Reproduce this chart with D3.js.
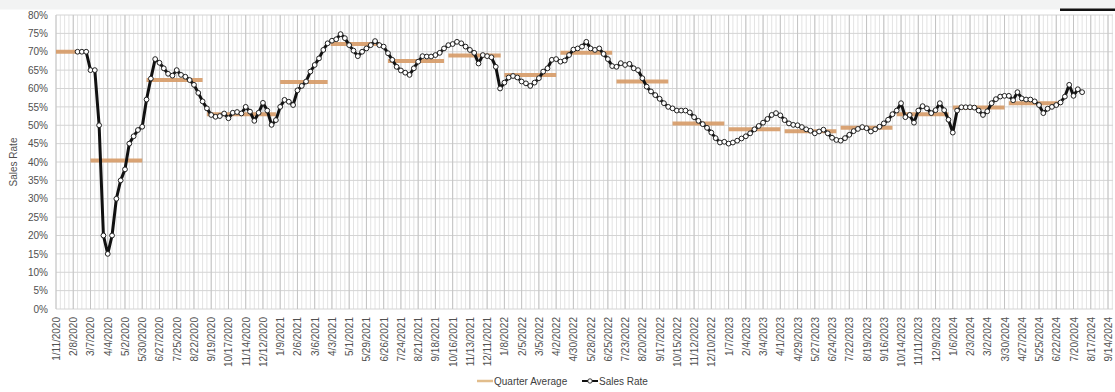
<!DOCTYPE html>
<html>
<head>
<meta charset="utf-8">
<script src="https://cdn.jsdelivr.net/npm/d3@7"></script>
<style>
  body { margin: 0; background: #fff; }
  svg { display: block; font-family: "Liberation Sans", Arial, sans-serif; }
</style>
</head>
<body>
<svg id="chart" width="1115" height="392"></svg>
<script>
// Weekly sales rate (%), one value per Saturday starting 2/15/2020
const firstWeek = "2/15/2020";
const salesRate = [
  70, 70, 70, 65, 65, 50, 20, 15, 20, 30,
  35, 38, 45, 47, 48.7, 49.6, 57, 62.7, 68, 67,
  65.5, 64, 63.5, 65, 63.7, 63.2, 62.3, 61, 58.8, 56.5,
  54.6, 52.8, 52.3, 52.5, 53.2, 51.9, 53.4, 53.6, 53.2, 55,
  53.7, 51.2, 53.4, 56.1, 54, 50.1, 51.4, 55, 56.9, 56.4,
  55.5, 59.5, 60.7, 61.9, 64.6, 66.4, 68.2, 70.5, 72.3, 73,
  73.4, 74.8, 73.7, 71.8, 70.3, 68.8, 70, 70.9, 71.8, 72.9,
  71.8, 71.4, 69.6, 67.8, 65.9, 64.9, 64.3, 63.7, 65.5, 67.3,
  68.8, 68.7, 68.7, 69.1, 69.7, 70.9, 71.8, 72.1, 72.7, 72.3,
  71.4, 70.5, 69.7, 66.8, 69.1, 68.8, 68.5, 65.9, 60, 61.6,
  63, 63.4, 63, 61.9, 61.4, 60.7, 61.6, 62.8, 64.6, 65.5,
  67.8, 68, 67.3, 67.6, 69.1, 70.6, 70.9, 71.4, 72.7, 70.9,
  70.5, 70.9, 69.4, 68, 66.1, 65.9, 66.9, 66.4, 66.7, 65.5,
  65, 62.8, 60.5, 59.2, 58.2, 57.2, 56, 55, 54.6, 54,
  54, 54, 53.5, 52.2, 51.2, 50.3, 49.3, 48, 46.5, 45.3,
  45.5, 45, 45.3, 45.8, 46.4, 47, 47.8, 48.9, 49.8, 50.7,
  51.7, 52.8, 53.3, 52.7, 51.4, 50.5, 50.1, 50, 49.5, 48.9,
  48.5, 47.8, 48.3, 48.8, 47.8, 46.6, 46, 45.8, 46.5, 47.4,
  48.4, 49, 49.5, 49.2, 48.3, 48.9, 49.6, 50.5, 51.5, 53,
  54, 56, 52.2, 52.8, 50.7, 54, 55.2, 54.6, 53.3, 54.1,
  56, 54.1, 51.5, 48, 54, 54.9, 54.9, 54.9, 54.8, 54,
  52.8, 53.8, 56, 57.1, 57.8, 58, 58, 56.8, 59, 57.3,
  57, 57, 56.5, 55.5, 53.3, 54.5, 55, 55.5, 56.2, 57.8,
  61, 58, 59.8, 59
];

// Quarter averages: period start, period end, average (%)
const quarterStart = ["1/11/2020", "3/7/2020", "6/6/2020", "9/12/2020", "1/9/2021", "4/1/2021",
  "7/3/2021", "10/9/2021", "1/8/2022", "4/9/2022", "7/9/2022", "10/8/2022",
  "1/7/2023", "4/8/2023", "7/8/2023", "10/7/2023", "1/6/2024", "4/6/2024"];
const quarterEnd = ["2/15/2020", "5/30/2020", "9/5/2020", "1/2/2021", "3/27/2021", "6/20/2021",
  "10/2/2021", "1/2/2022", "4/2/2022", "7/2/2022", "10/1/2022", "12/31/2022",
  "4/1/2023", "7/1/2023", "9/30/2023", "12/30/2023", "3/30/2024", "6/29/2024"];
const quarterAvg = [70, 40.4, 62.3, 53, 61.8, 72.1, 67.5, 69, 63.7, 69.7, 61.9, 50.5,
  48.9, 48.4, 49.3, 53, 54.8, 56];

// X-axis tick labels (every four weeks)
const tickLabels = ["1/11/2020", "2/8/2020", "3/7/2020", "4/4/2020", "5/2/2020", "5/30/2020",
  "6/27/2020", "7/25/2020", "8/22/2020", "9/19/2020", "10/17/2020", "11/14/2020", "12/12/2020",
  "1/9/2021", "2/6/2021", "3/6/2021", "4/3/2021", "5/1/2021", "5/29/2021", "6/26/2021",
  "7/24/2021", "8/21/2021", "9/18/2021", "10/16/2021", "11/13/2021", "12/11/2021",
  "1/8/2022", "2/5/2022", "3/5/2022", "4/2/2022", "4/30/2022", "5/28/2022", "6/25/2022",
  "7/23/2022", "8/20/2022", "9/17/2022", "10/15/2022", "11/12/2022", "12/10/2022",
  "1/7/2023", "2/4/2023", "3/4/2023", "4/1/2023", "4/29/2023", "5/27/2023", "6/24/2023",
  "7/22/2023", "8/19/2023", "9/16/2023", "10/14/2023", "11/11/2023", "12/9/2023",
  "1/6/2024", "2/3/2024", "3/2/2024", "3/30/2024", "4/27/2024", "5/25/2024", "6/22/2024",
  "7/20/2024", "8/17/2024", "9/14/2024"];

const yTicks = [0, 5, 10, 15, 20, 25, 30, 35, 40, 45, 50, 55, 60, 65, 70, 75, 80];

const parse = d3.utcParse("%m/%d/%Y");
const svg = d3.select("#chart");

const plot = { left: 56, right: 1113, top: 15, bottom: 309 };
const tickDates = tickLabels.map(parse);

const x = d3.scaleUtc()
  .domain([tickDates[0], tickDates[tickDates.length - 1]])
  .range([56, 1108]);
const y = d3.scaleLinear().domain([0, 80]).range([plot.bottom, plot.top]);

// top strip
svg.append("rect").attr("x", 0).attr("y", 0).attr("width", 1115).attr("height", 9.5).attr("fill", "#f2f3f3");
svg.append("rect").attr("x", 1060).attr("y", 8.5).attr("width", 55).attr("height", 2.5).attr("fill", "#111");

const grid = svg.append("g");

// weekly minor gridlines
const plotEndDate = x.invert(plot.right);
const weeks = d3.utcSaturday.range(tickDates[0], d3.utcDay.offset(plotEndDate, 1));
grid.selectAll("line.minor").data(weeks).join("line")
  .attr("x1", d => x(d)).attr("x2", d => x(d))
  .attr("y1", plot.top).attr("y2", plot.bottom)
  .attr("stroke", "#e3e3e3").attr("stroke-width", 1);

// horizontal gridlines
grid.selectAll("line.h").data(yTicks).join("line")
  .attr("x1", plot.left).attr("x2", plot.right)
  .attr("y1", d => y(d)).attr("y2", d => y(d))
  .attr("stroke", "#d4d4d4").attr("stroke-width", 1);

// major gridlines at tick dates
grid.selectAll("line.major").data(tickDates).join("line")
  .attr("x1", d => x(d)).attr("x2", d => x(d))
  .attr("y1", plot.top).attr("y2", plot.bottom)
  .attr("stroke", "#c4c4c4").attr("stroke-width", 1);

// y axis labels
const yAxis = d3.axisLeft(y).tickValues(yTicks).tickSize(0).tickPadding(8).tickFormat(d => d + "%");
svg.append("g").attr("transform", `translate(${plot.left},0)`).call(yAxis)
  .call(g => g.select(".domain").remove())
  .call(g => g.selectAll("text").attr("fill", "#505050").attr("font-size", 10)
    .attr("font-family", '"Liberation Sans", Arial, sans-serif'));

// x axis labels
const xAxis = d3.axisBottom(x).tickValues(tickDates).tickSize(0)
  .tickFormat((d, i) => tickLabels[i]);
svg.append("g").attr("transform", `translate(0,${plot.bottom})`).call(xAxis)
  .call(g => g.select(".domain").remove())
  .call(g => g.selectAll("text")
    .attr("transform", "rotate(-90)")
    .attr("text-anchor", "end")
    .attr("x", -8).attr("y", 0).attr("dy", "0.35em")
    .attr("fill", "#505050").attr("font-size", 10)
    .attr("font-family", '"Liberation Sans", Arial, sans-serif'));

// y axis title
svg.append("text")
  .attr("transform", `translate(17,${(plot.top + plot.bottom) / 2}) rotate(-90)`)
  .attr("text-anchor", "middle")
  .attr("font-size", 10).attr("fill", "#505050")
  .text("Sales Rate");

// quarter average segments
const quarters = quarterAvg.map((v, i) => ({ s: parse(quarterStart[i]), e: parse(quarterEnd[i]), v }));
svg.append("g").selectAll("line").data(quarters).join("line")
  .attr("x1", d => x(d.s)).attr("x2", d => x(d.e))
  .attr("y1", d => y(d.v)).attr("y2", d => y(d.v))
  .attr("stroke", "#d69a66").attr("stroke-width", 4).attr("stroke-opacity", 0.9);

// sales rate line
const start = parse(firstWeek);
const series = salesRate.map((v, i) => ({ date: d3.utcDay.offset(start, 7 * i), v }));
const line = d3.line().x(d => x(d.date)).y(d => y(d.v));
svg.append("path").datum(series)
  .attr("d", line).attr("fill", "none")
  .attr("stroke", "#111").attr("stroke-width", 3).attr("stroke-linejoin", "round");
svg.append("g").selectAll("circle").data(series).join("circle")
  .attr("cx", d => x(d.date)).attr("cy", d => y(d.v)).attr("r", 2.4)
  .attr("fill", "#fff").attr("stroke", "#222").attr("stroke-width", 1);

// legend
const legend = svg.append("g").attr("font-size", 10).attr("fill", "#404040");
legend.append("line").attr("x1", 477).attr("x2", 493).attr("y1", 381).attr("y2", 381)
  .attr("stroke", "#e2bd8c").attr("stroke-width", 2.5);
legend.append("text").attr("x", 494).attr("y", 384.5).text("Quarter Average");
legend.append("line").attr("x1", 582).attr("x2", 598).attr("y1", 381).attr("y2", 381)
  .attr("stroke", "#111").attr("stroke-width", 2);
legend.append("circle").attr("cx", 590).attr("cy", 381).attr("r", 2.2)
  .attr("fill", "#fff").attr("stroke", "#222").attr("stroke-width", 0.9);
legend.append("text").attr("x", 599).attr("y", 384.5).text("Sales Rate");
</script>
</body>
</html>
